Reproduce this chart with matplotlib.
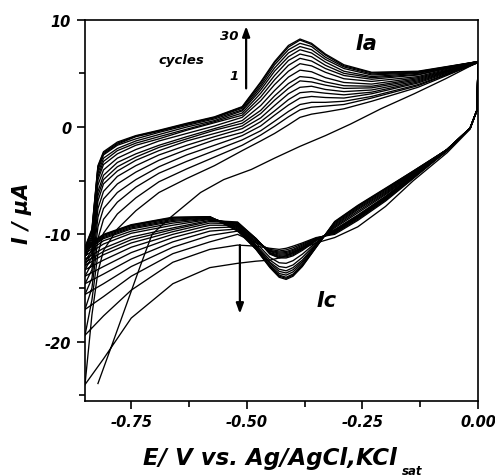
import matplotlib
matplotlib.use("Agg")
import matplotlib.pyplot as plt
from matplotlib.ticker import MultipleLocator, FormatStrFormatter

# ---------------- data ----------------
# cycle 1, anodic (forward) branch
E_c1_fwd = [-0.822, -0.79, -0.76, -0.73, -0.705, -0.666, -0.60, -0.55, -0.49,
            -0.44, -0.385, -0.33, -0.276, -0.21, -0.138, -0.07, 0.0]
I_c1_fwd = [-23.9, -20.1, -16.5, -12.9, -10.0, -8.45, -6.1, -4.9, -3.95,
            -2.9, -1.8, -0.8, 0.27, 1.7, 3.1, 4.5, 6.05]

# common potential grid, anodic (forward) scan
E_fwd = [-0.85, -0.835, -0.822, -0.81, -0.78, -0.74, -0.69, -0.63, -0.57, -0.51,
         -0.47, -0.44, -0.41, -0.385, -0.36, -0.33, -0.29, -0.23, -0.13, 0.0]
# common potential grid, cathodic (reverse) scan
E_rev = [0.0, -0.002, -0.017, -0.067, -0.14, -0.20, -0.26, -0.31, -0.35, -0.38,
         -0.40, -0.415, -0.43, -0.45, -0.48, -0.52, -0.58, -0.66, -0.75, -0.81, -0.85]

# cycle 1, cathodic branch
I_c1_rev = [6.05, 1.6, -0.2, -2.4, -5.0, -7.4, -9.3, -10.3, -10.8, -11.3,
            -11.7, -12.0, -12.2, -12.4, -12.5, -12.7, -13.1, -14.6, -17.8, -21.6, -24.0]

cycles = [2, 3, 4, 5, 6, 7, 8, 9, 10, 12, 14, 16, 18, 21, 24, 27, 30]

I_fwd = [
    [-24.0, -17.5, -13.5, -11.5, -9.5, -7.8, -6.1, -4.8, -3.6, -2.2, -1.3, -0.6, 0.2, 0.9, 1.2, 1.4, 1.7, 2.4, 3.7, 6.0],
    [-19.4, -16.1, -11.8, -9.9, -8.1, -6.6, -5.1, -3.9, -2.8, -1.7, -0.75, 0.07, 0.95, 1.6, 1.85, 1.95, 2.1, 2.7, 3.85, 6.0],
    [-17.0, -15.0, -10.4, -8.6, -7.0, -5.6, -4.3, -3.2, -2.2, -1.2, -0.35, 0.54, 1.45, 2.1, 2.3, 2.3, 2.4, 2.85, 3.95, 6.0],
    [-15.6, -14.1, -9.3, -7.6, -6.1, -4.9, -3.7, -2.6, -1.7, -0.8, 0.1, 1.1, 2.05, 2.7, 2.85, 2.75, 2.7, 3.1, 4.1, 6.0],
    [-14.6, -13.3, -8.4, -6.7, -5.3, -4.2, -3.1, -2.1, -1.2, -0.5, 0.5, 1.5, 2.55, 3.2, 3.3, 3.15, 3.0, 3.25, 4.2, 6.05],
    [-13.9, -12.7, -7.6, -6.0, -4.6, -3.6, -2.6, -1.7, -0.9, -0.15, 0.85, 2.0, 3.1, 3.7, 3.8, 3.5, 3.3, 3.45, 4.3, 6.05],
    [-13.3, -12.1, -6.9, -5.3, -4.1, -3.1, -2.2, -1.3, -0.6, 0.1, 1.25, 2.5, 3.6, 4.3, 4.2, 3.9, 3.6, 3.65, 4.4, 6.05],
    [-12.9, -11.7, -6.4, -4.9, -3.7, -2.8, -1.9, -1.1, -0.3, 0.35, 1.55, 2.9, 4.05, 4.7, 4.6, 4.2, 3.85, 3.8, 4.5, 6.05],
    [-12.6, -11.4, -6.0, -4.5, -3.3, -2.5, -1.7, -0.9, -0.15, 0.6, 2.0, 3.4, 4.65, 5.3, 5.15, 4.6, 4.15, 4.0, 4.6, 6.05],
    [-12.1, -10.9, -5.4, -4.0, -2.9, -2.1, -1.3, -0.6, 0.1, 0.9, 2.45, 3.95, 5.2, 5.9, 5.7, 5.1, 4.5, 4.25, 4.7, 6.1],
    [-11.9, -10.5, -4.9, -3.5, -2.5, -1.7, -1.1, -0.3, 0.4, 1.1, 2.8, 4.4, 5.75, 6.4, 6.15, 5.45, 4.8, 4.45, 4.85, 6.1],
    [-11.7, -10.3, -4.6, -3.2, -2.2, -1.5, -0.9, -0.2, 0.5, 1.3, 3.15, 4.8, 6.2, 6.8, 6.55, 5.75, 5.0, 4.6, 4.9, 6.1],
    [-11.55, -10.1, -4.3, -2.9, -2.0, -1.3, -0.7, 0.0, 0.6, 1.5, 3.45, 5.2, 6.55, 7.2, 6.9, 6.05, 5.2, 4.7, 5.0, 6.1],
    [-11.45, -9.8, -4.0, -2.6, -1.7, -1.1, -0.5, 0.15, 0.75, 1.6, 3.7, 5.5, 6.9, 7.5, 7.2, 6.3, 5.45, 4.85, 5.05, 6.1],
    [-11.35, -9.7, -3.8, -2.5, -1.6, -0.9, -0.4, 0.25, 0.85, 1.75, 3.9, 5.8, 7.2, 7.8, 7.5, 6.5, 5.6, 4.95, 5.1, 6.1],
    [-11.25, -9.6, -3.7, -2.4, -1.5, -0.85, -0.35, 0.3, 0.9, 1.85, 4.1, 6.0, 7.45, 8.1, 7.7, 6.7, 5.7, 5.05, 5.15, 6.1],
    [-11.2, -9.5, -3.6, -2.3, -1.4, -0.8, -0.3, 0.35, 0.95, 1.9, 4.2, 6.1, 7.6, 8.2, 7.8, 6.8, 5.8, 5.1, 5.2, 6.1],
]

I_rev = [
    [6.0, 1.6, -0.1, -2.2, -4.8, -6.9, -8.7, -10.0, -10.3, -10.8, -11.1, -11.3, -11.4, -11.3, -11.1, -11.0, -11.4, -12.6, -15.2, -17.6, -19.4],
    [6.0, 1.6, -0.1, -2.2, -4.75, -6.8, -8.6, -9.9, -10.35, -10.9, -11.25, -11.45, -11.55, -11.4, -10.8, -10.0, -10.7, -11.8, -13.9, -15.8, -17.0],
    [6.0, 1.6, -0.1, -2.2, -4.7, -6.75, -8.5, -9.85, -10.4, -11.0, -11.4, -11.6, -11.65, -11.5, -10.7, -9.7, -10.1, -11.2, -13.0, -14.6, -15.6],
    [6.0, 1.6, -0.1, -2.2, -4.65, -6.7, -8.45, -9.8, -10.45, -11.1, -11.5, -11.7, -11.75, -11.55, -10.6, -9.5, -9.7, -10.7, -12.3, -13.7, -14.6],
    [6.05, 1.6, -0.1, -2.2, -4.6, -6.65, -8.4, -9.75, -10.45, -11.2, -11.6, -11.8, -11.85, -11.6, -10.5, -9.3, -9.4, -10.3, -11.7, -13.0, -13.9],
    [6.05, 1.6, -0.1, -2.2, -4.55, -6.6, -8.35, -9.7, -10.5, -11.25, -11.7, -11.9, -11.95, -11.7, -10.45, -9.15, -9.15, -10.0, -11.2, -12.4, -13.3],
    [6.05, 1.6, -0.1, -2.2, -4.5, -6.55, -8.3, -9.65, -10.5, -11.35, -11.8, -12.0, -12.05, -11.75, -10.4, -9.0, -8.95, -9.75, -10.8, -11.9, -12.9],
    [6.05, 1.6, -0.1, -2.1, -4.5, -6.5, -8.25, -9.6, -10.55, -11.4, -11.9, -12.1, -12.15, -11.8, -10.4, -8.9, -8.8, -9.55, -10.5, -11.6, -12.6],
    [6.05, 1.6, -0.1, -2.1, -4.45, -6.45, -8.2, -9.55, -10.6, -11.5, -12.0, -12.2, -12.2, -11.85, -10.4, -8.85, -8.7, -9.4, -10.25, -11.3, -12.3],
    [6.1, 1.6, -0.1, -2.1, -4.4, -6.3, -8.0, -9.4, -10.75, -11.85, -12.45, -12.7, -12.65, -12.15, -10.8, -9.0, -8.6, -9.15, -9.9, -10.9, -12.0],
    [6.1, 1.6, -0.1, -2.1, -4.35, -6.2, -7.85, -9.3, -10.85, -12.15, -12.85, -13.1, -13.0, -12.4, -11.0, -9.1, -8.55, -8.95, -9.7, -10.6, -11.8],
    [6.1, 1.6, -0.1, -2.1, -4.3, -6.1, -7.7, -9.2, -10.95, -12.4, -13.1, -13.4, -13.25, -12.6, -11.1, -9.2, -8.5, -8.8, -9.5, -10.4, -11.6],
    [6.1, 1.6, -0.1, -2.1, -4.25, -6.0, -7.6, -9.1, -11.0, -12.55, -13.3, -13.6, -13.45, -12.7, -11.2, -9.3, -8.45, -8.7, -9.4, -10.3, -11.5],
    [6.1, 1.6, -0.1, -2.1, -4.2, -5.9, -7.5, -9.0, -11.05, -12.7, -13.5, -13.8, -13.65, -12.85, -11.3, -9.4, -8.4, -8.6, -9.3, -10.2, -11.4],
    [6.1, 1.6, -0.1, -2.1, -4.15, -5.8, -7.4, -8.9, -11.15, -12.85, -13.7, -14.0, -13.8, -12.95, -11.35, -9.5, -8.4, -8.5, -9.2, -10.1, -11.3],
    [6.1, 1.6, -0.1, -2.1, -4.1, -5.75, -7.35, -8.85, -11.2, -12.95, -13.8, -14.1, -13.9, -13.05, -11.4, -9.6, -8.35, -8.45, -9.15, -10.05, -11.25],
    [6.1, 1.6, -0.1, -2.1, -4.1, -5.7, -7.3, -8.8, -11.2, -13.0, -13.9, -14.2, -14.0, -13.1, -11.4, -9.7, -8.35, -8.4, -9.1, -10.0, -11.2],
]

x_ticks = [-0.75, -0.50, -0.25, 0.00]
y_ticks = [10, 0, -10, -20]

# ---------------- figure ----------------
font = dict(family="DejaVu Sans", weight="bold", style="italic")

fig = plt.figure(figsize=(4.95, 4.77), dpi=100)
ax = fig.add_axes([85 / 495, 1 - 401.7 / 477, (478 - 85) / 495, (401.7 - 20.7) / 477])

lw = 0.95
ax.plot(E_c1_fwd + E_rev, I_c1_fwd + I_c1_rev, color="black", lw=lw)
for fwd, rev in zip(I_fwd, I_rev):
    ax.plot(E_fwd + E_rev, fwd + rev, color="black", lw=lw)

ax.set_xlim(-0.85, 0.0)
ax.set_ylim(-25.5, 10)
ax.set_xticks(x_ticks)
ax.set_yticks(y_ticks)
ax.xaxis.set_minor_locator(MultipleLocator(0.125))
ax.yaxis.set_minor_locator(MultipleLocator(5))
ax.xaxis.set_major_formatter(FormatStrFormatter("%.2f"))
ax.yaxis.set_major_formatter(FormatStrFormatter("%d"))
ax.tick_params(which="major", direction="out", length=6, width=1.2, pad=4)
ax.tick_params(which="minor", direction="out", length=4, width=1.2)
ax.tick_params(axis="x", which="major", pad=3.5)
for lab in ax.get_xticklabels() + ax.get_yticklabels():
    lab.set_fontfamily("DejaVu Sans")
    lab.set_fontweight("bold")
    lab.set_fontstyle("italic")
    lab.set_fontsize(10.5)
for sp in ax.spines.values():
    sp.set_linewidth(1.2)

# axis labels
fig.text(22 / 495, 1 - 213 / 477, "I / \u03bcA", rotation=90, ha="center", va="center",
         fontsize=15, **font)
fig.text(270 / 495, 1 - 459 / 477, "E/ V vs. Ag/AgCl,KCl", ha="center", va="center",
         fontsize=16.5, **font)
fig.text(402 / 495, 1 - 472 / 477, "sat", ha="left", va="center", fontsize=8.5, **font)

# annotations
ax.annotate("", xy=(-0.5015, 9.4), xytext=(-0.5015, 3.6),
            arrowprops=dict(arrowstyle="-|>,head_length=0.6,head_width=0.22",
                            lw=1.6, color="black", shrinkA=0, shrinkB=0))
ax.annotate("", xy=(-0.515, -17.4), xytext=(-0.515, -11.0),
            arrowprops=dict(arrowstyle="-|>,head_length=0.6,head_width=0.22",
                            lw=1.6, color="black", shrinkA=0, shrinkB=0))
ax.text(-0.642, 6.3, "cycles", ha="center", va="center", fontsize=9.5, **font)
ax.text(-0.518, 8.5, "30", ha="right", va="center", fontsize=9.5, **font)
ax.text(-0.518, 4.8, "1", ha="right", va="center", fontsize=9.5, **font)
ax.text(-0.242, 7.8, "Ia", ha="center", va="center", fontsize=15, **font)
ax.text(-0.328, -16.1, "Ic", ha="center", va="center", fontsize=15, **font)

fig.savefig("out.png", dpi=100)
